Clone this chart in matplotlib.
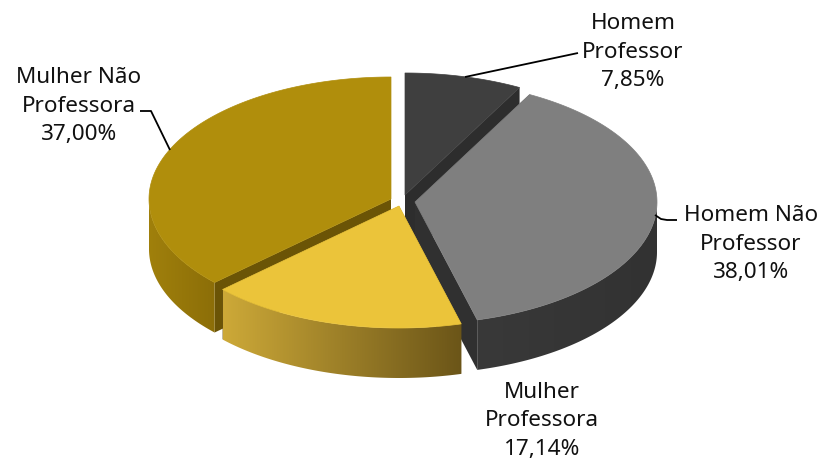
import numpy as np
import matplotlib
matplotlib.use("Agg")
import matplotlib.pyplot as plt
from matplotlib.patches import Polygon

# dados
labels = ["Homem\nProfessor", "Homem Não\nProfessor", "Mulher\nProfessora", "Mulher Não\nProfessora"]
values = [7.85, 38.01, 17.14, 37.00]
value_labels = ["7,85%", "38,01%", "17,14%", "37,00%"]

# layout em pixels
RX, RY, DEPTH = 242, 122, 50
apex = [(405, 195), (415, 202), (399, 206), (391, 199)]
top_col = ["#3f3f3f", "#7f7f7f", "#ebc43a", "#b08e0c"]
wall_col = ["#2d2d2d", "#303030", "#6b5518", "#6b5406"]
side_grad = [("#333333", "#333333"), ("#393939", "#323232"), ("#cda938", "#6b5518"), ("#a0800c", "#8c6e08")]
label_xy = [(633, 52), (751, 244), (542, 421), (79, 106)]
leaders = [
    [(465, 77), (578, 53)],
    [(655, 215), (661, 219), (667, 220), (677, 220)],
    [],
    [(170, 150), (151, 111), (140, 111)],
]

plt.rcParams["font.family"] = ["Noto Sans", "DejaVu Sans"]

fig = plt.figure(figsize=(8.22, 4.59), dpi=100)
ax = fig.add_axes([0, 0, 1, 1])
ax.set_xlim(0, 822)
ax.set_ylim(459, 0)
ax.axis("off")


def arc(i, a0, a1):
    # angulo em graus, horario a partir do topo
    t = np.radians(np.linspace(a0, a1, 120))
    return np.column_stack([apex[i][0] + RX * np.sin(t), apex[i][1] - RY * np.cos(t)])


def gradient(poly, c0, c1, z):
    x0, x1 = poly[:, 0].min(), poly[:, 0].max()
    y0, y1 = poly[:, 1].min(), poly[:, 1].max()
    cmap = matplotlib.colors.LinearSegmentedColormap.from_list("g", [c0, c1])
    im = ax.imshow(np.linspace(0, 1, 256)[None, :], extent=(x0, x1, y1, y0), cmap=cmap,
                   aspect="auto", zorder=z, interpolation="bilinear")
    clip = Polygon(poly, closed=True, transform=ax.transData)
    im.set_clip_path(clip)


edges = np.concatenate([[0], np.cumsum(values)]) / sum(values) * 360
order = [0, 3, 1, 2]  # de tras para frente

for n, i in enumerate(order):
    a0, a1 = edges[i], edges[i + 1]
    z = 2 + n * 3
    c = np.array(apex[i], dtype=float)
    # paredes internas
    for a in (a0, a1):
        p = arc(i, a, a)[0]
        wall = np.array([c, p, p + [0, DEPTH], c + [0, DEPTH]])
        ax.add_patch(Polygon(wall, closed=True, fc=wall_col[i], ec="none", zorder=z))
    # lateral externa
    s0, s1 = max(a0, 90), min(a1, 270)
    if s1 > s0:
        outer = arc(i, s0, s1)
        side = np.vstack([outer, (outer + [0, DEPTH])[::-1]])
        gradient(side, side_grad[i][0], side_grad[i][1], z + 1)
    # topo
    top = np.vstack([[c], arc(i, a0, a1)])
    ax.add_patch(Polygon(top, closed=True, fc=top_col[i], ec=top_col[i], lw=0.5, zorder=z + 2))

ax.set_xlim(0, 822)
ax.set_ylim(459, 0)

for i in range(len(values)):
    if leaders[i]:
        xs, ys = zip(*leaders[i])
        ax.plot(xs, ys, color="black", lw=1.3, zorder=30, solid_capstyle="butt")
    ax.text(label_xy[i][0], label_xy[i][1], labels[i] + "\n" + value_labels[i], ha="center", va="center",
            multialignment="center", fontsize=16.2, linespacing=1.45, color="#111111", zorder=31)

fig.savefig("out.png", dpi=100)
